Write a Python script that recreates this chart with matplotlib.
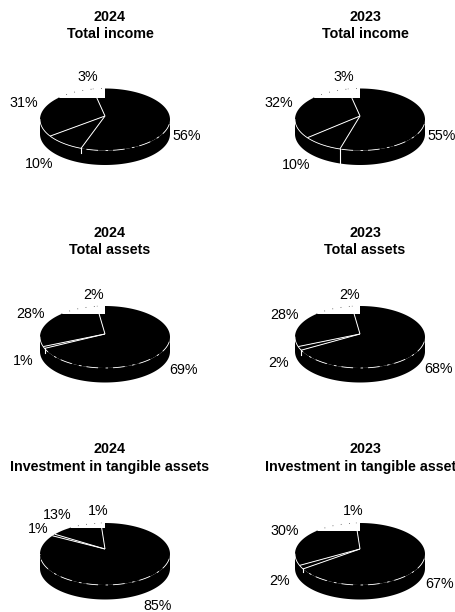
import numpy as np
import matplotlib
matplotlib.use("Agg")
import matplotlib.pyplot as plt
from matplotlib.patches import Rectangle

plt.rcParams['font.family'] = ['Liberation Sans', 'DejaVu Sans']

# Shares per panel, clockwise from twelve o'clock
income_2024 = [56, 10, 31, 3]
income_2023 = [55, 10, 32, 3]
assets_2024 = [69, 1, 28, 2]
assets_2023 = [68, 2, 28, 2]
tangible_2024 = [85, 1, 13, 1]
tangible_2023 = [67, 2, 30, 1]

years = ["2024", "2023"]
topics = ["Total income", "Total assets", "Investment in tangible assets"]
panels = [[income_2024, income_2023],
          [assets_2024, assets_2023],
          [tangible_2024, tangible_2023]]

# Layout in pixels
centre_x = [105, 360]
title_x = [110, 365]
ellipse_y = [119.5, 337, 554]
apex_y = [116, 334, 549]
title_y = [(17, 34), (233, 250), (449, 467)]
flat_top = [[98, 98], [314, 314], [528, 531]]
seam_len = [[0.35, 1.0], [0.3, 0.3], [0.0, 0.2]]
label_xy = [
    [[(187, 136), (39, 164), (24, 103), (88, 77)],
     [(442, 136), (296, 165), (279, 103), (344, 77)]],
    [[(184, 370), (23, 361), (31, 314), (94, 295)],
     [(439, 369), (279, 363), (285, 315), (350, 295)]],
    [[(158, 606), (38, 529), (57, 515), (98, 511)],
     [(440, 584), (280, 581), (285, 531), (353, 511)]],
]
RX, RY, DEPTH = 65, 31, 14.5
FONT = 10.3

fig = plt.figure(figsize=(4.56, 6.12), dpi=100)
ax = fig.add_axes([0, 0, 1, 1])
ax.set_xlim(0, 456)
ax.set_ylim(612, 0)
ax.axis("off")


def rim(cx, cy, a0, a1, n=120):
    """Points on the top ellipse between two angles (radians, maths convention, y down)."""
    t = np.linspace(a0, a1, n)
    return cx + RX * np.cos(t), cy - RY * np.sin(t)


def draw_pie(values, cx, cy, ay, clip_y, seam):
    edges = np.pi / 2 - 2 * np.pi * np.cumsum([0] + values) / sum(values)

    # Cylinder wall below the top face
    xs, ys = rim(cx, cy, 0, -np.pi)
    ax.fill(np.r_[xs, xs[::-1]], np.r_[ys, ys[::-1] + DEPTH], color="black", lw=0, zorder=1)

    # Top face slices; all but the largest are cut flat along the upper edge
    largest = int(np.argmax(values))
    for i in range(len(values)):
        xs, ys = rim(cx, cy, edges[i], edges[i + 1])
        poly = ax.fill(np.r_[cx, xs], np.r_[ay, ys], color="black", lw=0, zorder=2)[0]
        if i != largest:
            poly.set_clip_path(Rectangle((cx - 80, clip_y), 160, 120, transform=ax.transData))
            # Faint dotted trace of the removed arc
            top = ys < clip_y
            if top.any():
                ax.plot(xs[top], ys[top], color="black", lw=0.5, ls=(0, (1, 11)), zorder=2)

    # Slice boundaries
    for a in edges[1:-1]:
        x, y = cx + RX * np.cos(a), cy - RY * np.sin(a)
        ax.plot([cx, x], [ay, y], color="white", lw=0.7, zorder=3, solid_capstyle="butt")

    # Broken highlight along the front edge of the top face
    front_end = max(edges[1], -np.pi)
    xs, ys = rim(cx, cy, -0.15, front_end)
    ax.plot(xs, ys, color="white", lw=0.6, ls=(0, (14, 6, 3, 9)), zorder=4)
    if edges[1] > -np.pi:
        xs, ys = rim(cx, cy, front_end, -np.pi)
        ax.plot(xs, ys, color="white", lw=0.6, zorder=4)

    # Wall seam where the largest slice ends on the front side
    a = edges[1]
    if seam > 0 and np.sin(a) < 0:
        x, y = cx + RX * np.cos(a), cy - RY * np.sin(a)
        ax.plot([x, x], [y, y + DEPTH * seam], color="white", lw=0.8, zorder=4)


for r, row in enumerate(panels):
    for c, values in enumerate(row):
        draw_pie(values, centre_x[c], ellipse_y[r], apex_y[r], flat_top[r][c], seam_len[r][c])
        ax.text(title_x[c], title_y[r][0], years[c], fontsize=FONT, fontweight="bold",
                ha="center", va="center")
        ax.text(title_x[c], title_y[r][1], topics[r], fontsize=FONT, fontweight="bold",
                ha="center", va="center")
        for v, (x, y) in zip(values, label_xy[r][c]):
            ax.text(x, y, f"{v}%", fontsize=FONT, ha="center", va="center")

fig.savefig("out.png", dpi=100)
